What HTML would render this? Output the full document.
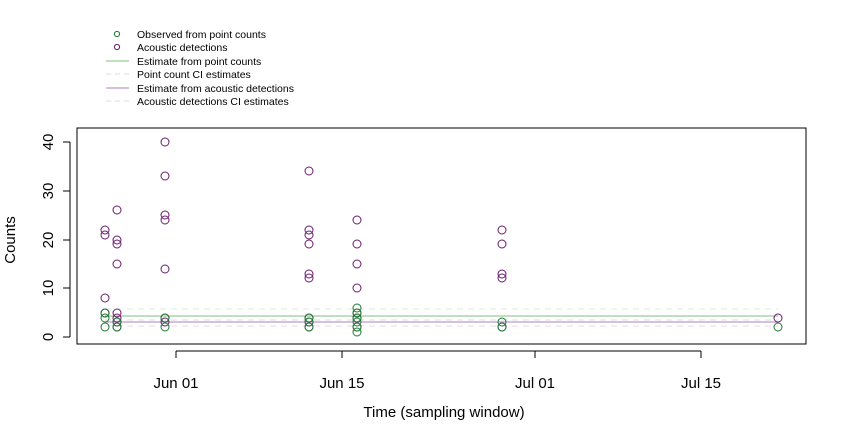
<!DOCTYPE html>
<html><head><meta charset="utf-8"><style>body{margin:0;background:#fff}svg{display:block}</style></head>
<body>
<svg width="845" height="441" xmlns="http://www.w3.org/2000/svg" font-family="Liberation Sans, sans-serif">
<rect width="845" height="441" fill="#fff"/>
<g font-size="10.5" fill="#000">
<circle cx="117" cy="34" r="2.6" fill="none" stroke="#1b7a2e" stroke-width="1"/>
<text x="137" y="38">Observed from point counts</text>
<circle cx="117" cy="47" r="2.6" fill="none" stroke="#6a1a6e" stroke-width="1"/>
<text x="137" y="51">Acoustic detections</text>
<line x1="106" y1="61" x2="129" y2="61" stroke="#7fbf7f"/>
<text x="137" y="65">Estimate from point counts</text>
<line x1="106" y1="74" x2="129" y2="74" stroke="#ddd" stroke-dasharray="5,4"/>
<text x="137" y="78">Point count CI estimates</text>
<line x1="106" y1="88" x2="129" y2="88" stroke="#b27fc0"/>
<text x="137" y="92">Estimate from acoustic detections</text>
<line x1="106" y1="101" x2="129" y2="101" stroke="#ddd" stroke-dasharray="5,4"/>
<text x="137" y="105">Acoustic detections CI estimates</text>
</g>
<rect x="77" y="128" width="729" height="216" fill="none" stroke="#000" stroke-width="1"/>
<g stroke="#000">
<line x1="70" y1="142" x2="70" y2="337"/>
<line x1="63" y1="337" x2="70" y2="337"/><line x1="63" y1="288" x2="70" y2="288"/>
<line x1="63" y1="240" x2="70" y2="240"/><line x1="63" y1="191" x2="70" y2="191"/>
<line x1="63" y1="142" x2="70" y2="142"/>
<line x1="176" y1="351" x2="701" y2="351"/>
<line x1="176" y1="351" x2="176" y2="358"/><line x1="342" y1="351" x2="342" y2="358"/>
<line x1="535" y1="351" x2="535" y2="358"/><line x1="701" y1="351" x2="701" y2="358"/>
</g>
<g font-size="15" text-anchor="middle">
<text transform="translate(53,337) rotate(-90)">0</text>
<text transform="translate(53,288) rotate(-90)">10</text>
<text transform="translate(53,240) rotate(-90)">20</text>
<text transform="translate(53,191) rotate(-90)">30</text>
<text transform="translate(53,142) rotate(-90)">40</text>
<text x="176" y="388">Jun 01</text><text x="342" y="388">Jun 15</text>
<text x="535" y="388">Jul 01</text><text x="701" y="388">Jul 15</text>
<text x="444" y="417">Time (sampling window)</text>
<text transform="translate(15,240) rotate(-90)">Counts</text>
</g>
<line x1="105" y1="309" x2="778" y2="309" stroke="#d8ecd8" stroke-dasharray="6,5"/>
<line x1="105" y1="320" x2="778" y2="320" stroke="#ddd" stroke-dasharray="6,5"/>
<line x1="105" y1="326" x2="778" y2="326" stroke="#e8d8ec" stroke-dasharray="6,5"/>
<line x1="105" y1="316" x2="778" y2="316" stroke="#7fbf7f"/>
<line x1="105" y1="322" x2="778" y2="322" stroke="#b27fc0"/>
<g fill="none" stroke="#6a1a6e" stroke-width="1">
<circle cx="105" cy="230" r="4"/><circle cx="105" cy="235" r="4"/><circle cx="105" cy="298" r="4"/><circle cx="105" cy="313" r="4"/>
<circle cx="117" cy="210" r="4"/><circle cx="117" cy="240" r="4"/><circle cx="117" cy="244" r="4"/><circle cx="117" cy="264" r="4"/><circle cx="117" cy="313" r="4"/><circle cx="117" cy="318" r="4"/><circle cx="117" cy="322" r="4"/><circle cx="117" cy="327" r="4"/>
<circle cx="165" cy="142" r="4"/><circle cx="165" cy="176" r="4"/><circle cx="165" cy="215" r="4"/><circle cx="165" cy="220" r="4"/><circle cx="165" cy="269" r="4"/><circle cx="165" cy="318" r="4"/><circle cx="165" cy="322" r="4"/>
<circle cx="309" cy="171" r="4"/><circle cx="309" cy="230" r="4"/><circle cx="309" cy="235" r="4"/><circle cx="309" cy="244" r="4"/><circle cx="309" cy="274" r="4"/><circle cx="309" cy="278" r="4"/><circle cx="309" cy="318" r="4"/><circle cx="309" cy="322" r="4"/><circle cx="309" cy="327" r="4"/>
<circle cx="357" cy="220" r="4"/><circle cx="357" cy="244" r="4"/><circle cx="357" cy="264" r="4"/><circle cx="357" cy="288" r="4"/><circle cx="357" cy="313" r="4"/><circle cx="357" cy="318" r="4"/><circle cx="357" cy="327" r="4"/>
<circle cx="502" cy="230" r="4"/><circle cx="502" cy="244" r="4"/><circle cx="502" cy="274" r="4"/><circle cx="502" cy="278" r="4"/><circle cx="502" cy="327" r="4"/>
<circle cx="778" cy="318" r="4"/>
</g>
<g fill="none" stroke="#1b7a2e" stroke-width="1">
<circle cx="105" cy="313" r="4"/><circle cx="105" cy="318" r="4"/><circle cx="105" cy="327" r="4"/>
<circle cx="117" cy="322" r="4"/><circle cx="117" cy="327" r="4"/>
<circle cx="165" cy="318" r="4"/><circle cx="165" cy="327" r="4"/>
<circle cx="309" cy="318" r="4"/><circle cx="309" cy="322" r="4"/><circle cx="309" cy="327" r="4"/>
<circle cx="357" cy="308" r="4"/><circle cx="357" cy="313" r="4"/><circle cx="357" cy="318" r="4"/><circle cx="357" cy="322" r="4"/><circle cx="357" cy="327" r="4"/><circle cx="357" cy="332" r="4"/>
<circle cx="502" cy="322" r="4"/><circle cx="502" cy="327" r="4"/>
<circle cx="778" cy="327" r="4"/>
</g>
</svg>
</body></html>
